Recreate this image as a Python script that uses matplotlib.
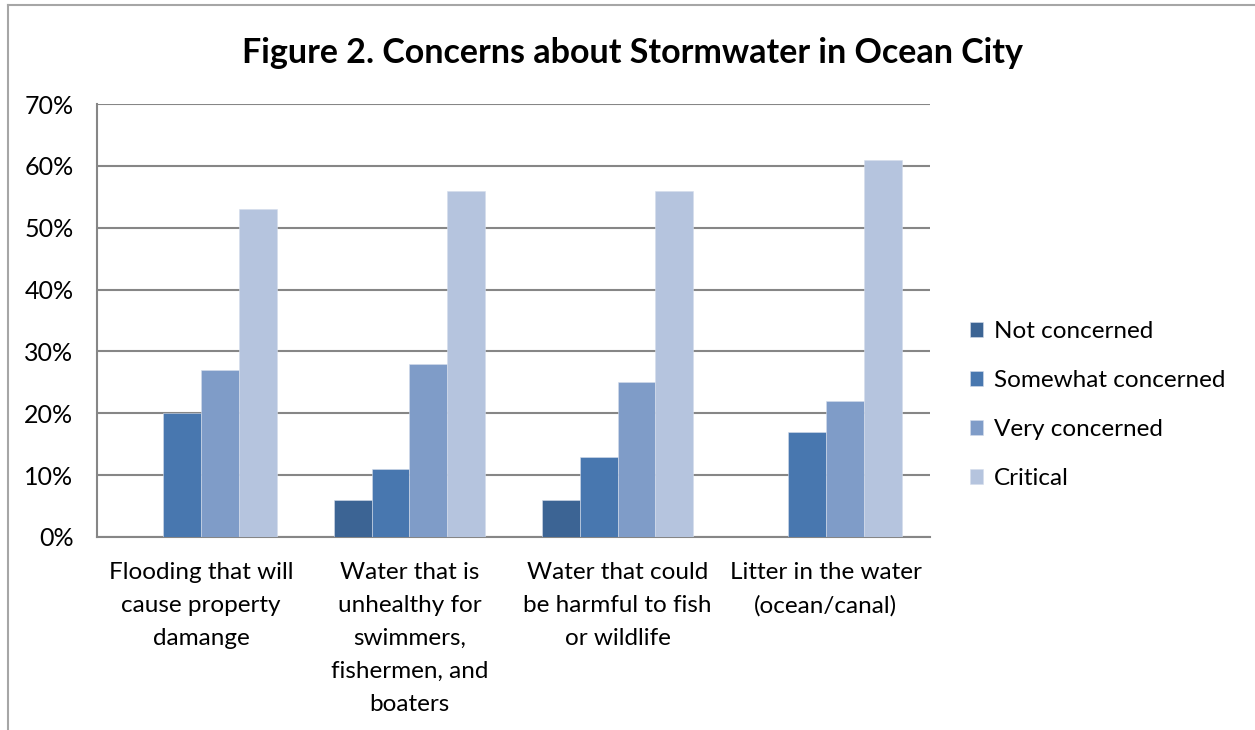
import matplotlib
matplotlib.use("Agg")
import matplotlib.pyplot as plt
import numpy as np
from matplotlib.lines import Line2D

categories = ["Flooding that will\ncause property\ndamange",
              "Water that is\nunhealthy for\nswimmers,\nfishermen, and\nboaters",
              "Water that could\nbe harmful to fish\nor wildlife",
              "Litter in the water\n(ocean/canal)"]
series_names = ["Not concerned", "Somewhat concerned", "Very concerned", "Critical"]
not_concerned = [0, 6, 6, 0]
somewhat = [20, 11, 13, 17]
very = [27, 28, 25, 22]
critical = [53, 56, 56, 61]
yticks = [0, 10, 20, 30, 40, 50, 60, 70]
colors = ["#3C6494", "#4877AF", "#7F9CC8", "#B5C4DE"]

plt.rcParams['font.family'] = ['Lato', 'DejaVu Sans']
W, H = 1255, 730
fig = plt.figure(figsize=(W/100, H/100), dpi=100)
ax = fig.add_axes([97/W, 1-537/H, (930-97)/W, (537-104)/H])

data = [not_concerned, somewhat, very, critical]
n = len(series_names)
bw = 1/(n+1.5)
x = np.arange(len(categories))
for i, (vals, c, name) in enumerate(zip(data, colors, series_names)):
    ax.bar(x - 2*bw + (i+0.5)*bw, vals, width=bw, color=c, label=name,
           edgecolor="#D5DDEB", linewidth=0.4, zorder=3)

ax.set_xlim(-0.5, len(categories)-0.5)
ax.set_ylim(0, 70)
ax.set_yticks(yticks)
ax.set_yticklabels([f"{t}%" for t in yticks], fontsize=18)
ax.set_xticks(x)
ax.set_xticklabels(categories, fontsize=17.5, linespacing=1.7, va='top')
ax.tick_params(axis='both', length=0)
ax.tick_params(axis='x', pad=18)
ax.tick_params(axis='y', pad=17)
ax.yaxis.grid(True, color="#868686", linewidth=1.5, zorder=0)
for s in ["top", "right"]:
    ax.spines[s].set_visible(False)
for s in ["left", "bottom"]:
    ax.spines[s].set_color("#868686")
    ax.spines[s].set_linewidth(1.5)

fig.text(632/W, 1-53/H, "Figure 2. Concerns about Stormwater in Ocean City",
         ha='center', va='center', fontsize=24.5, fontweight='bold')

leg = fig.legend(loc='center left', bbox_to_anchor=(948/W, 1-405/H), frameon=False,
                 fontsize=17.5, handlelength=0.55, handleheight=0.55, handletextpad=0.45,
                 labelspacing=1.15)

# outer chart border (left and top edges)
fig.add_artist(Line2D([8/W, 8/W], [0, 1-5/H], color="#A6A6A6", linewidth=1.5, transform=fig.transFigure))
fig.add_artist(Line2D([8/W, 1], [1-5/H, 1-5/H], color="#A6A6A6", linewidth=1.5, transform=fig.transFigure))

fig.savefig("out.png", dpi=100)
